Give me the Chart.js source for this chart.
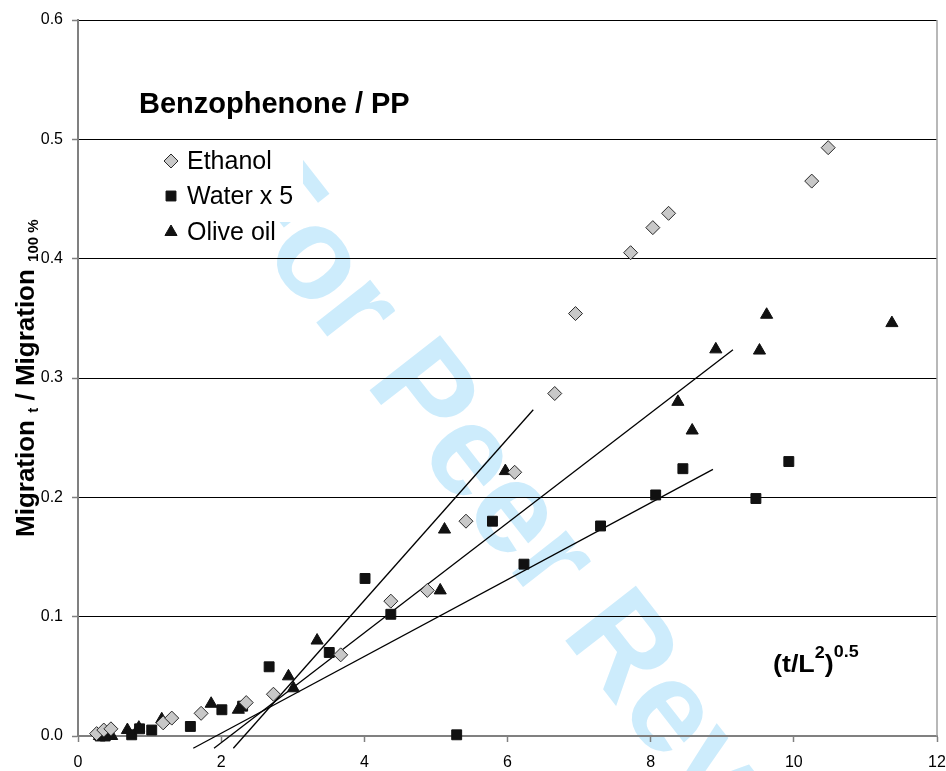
<!DOCTYPE html>
<html>
<head>
<meta charset="utf-8">
<script src="https://cdn.jsdelivr.net/npm/chart.js@4.4.1/dist/chart.umd.min.js"></script>
<style>
  html, body { margin: 0; padding: 0; background: #fff; }
  canvas { display: block; }
</style>
</head>
<body>
<canvas id="myChart" width="946" height="771"></canvas>
<script>
// data
const ethanolX = [0.26, 0.36, 0.46, 1.19, 1.31, 1.72, 2.35, 2.73, 3.67, 4.37, 4.88, 5.42, 6.10, 6.66, 6.95, 7.72, 8.03, 8.25, 10.25, 10.48];
const ethanolY = [0.002, 0.005, 0.006, 0.011, 0.015, 0.019, 0.028, 0.035, 0.068, 0.113, 0.122, 0.180, 0.221, 0.287, 0.354, 0.405, 0.426, 0.438, 0.465, 0.493];

const waterX = [0.31, 0.38, 0.75, 0.86, 1.03, 1.57, 2.01, 2.30, 2.67, 3.51, 4.01, 4.37, 5.29, 5.79, 6.23, 7.30, 8.07, 8.45, 9.47, 9.93];
const waterY = [0, 0, 0.001, 0.006, 0.005, 0.008, 0.022, 0.025, 0.058, 0.070, 0.132, 0.102, 0.001, 0.180, 0.144, 0.176, 0.202, 0.224, 0.199, 0.230];

const oliveX = [0.30, 0.47, 0.69, 0.85, 1.17, 1.86, 2.24, 2.94, 3.01, 3.34, 5.06, 5.12, 5.97, 8.38, 8.58, 8.91, 9.52, 9.62, 11.37];
const oliveY = [0, 0, 0.005, 0.007, 0.014, 0.027, 0.022, 0.050, 0.040, 0.080, 0.122, 0.173, 0.222, 0.280, 0.256, 0.324, 0.323, 0.353, 0.346];

// the three straight fit lines (end points)
const fitLine1X = [2.17, 6.36];
const fitLine1Y = [-0.0103, 0.2734];
const fitLine2X = [1.90, 9.15];
const fitLine2Y = [-0.0103, 0.3236];
const fitLine3X = [1.61, 8.87];
const fitLine3Y = [-0.0103, 0.2234];

const seriesNames = ["Ethanol", "Water x 5", "Olive oil"];
const xTickStep = 2;
const yTickStep = 0.1;
const chartTitle = "Benzophenone / PP";
const watermark = "For Peer Review";

const FONT = '"Liberation Sans", Arial, Helvetica, sans-serif';
Chart.defaults.font.family = FONT;

function pts(xs, ys) {
  return xs.map((x, i) => ({ x: x, y: ys[i] }));
}

const styles = [
  { pointStyle: 'rectRot', backgroundColor: '#c8c8c8', borderColor: '#2a2a2a' },
  { pointStyle: 'rect', backgroundColor: '#111', borderColor: '#111' },
  { pointStyle: 'triangle', backgroundColor: '#111', borderColor: '#111' }
];

function fitSet(xs, ys) {
  return {
    data: pts(xs, ys), showLine: true, pointRadius: 0,
    borderColor: '#000', borderWidth: 1.3, clip: false
  };
}

// little marker drawer for the legend box
function marker(c, style, x, y, r) {
  c.beginPath();
  if (style === 'rectRot') {
    c.moveTo(x - r, y); c.lineTo(x, y - r); c.lineTo(x + r, y); c.lineTo(x, y + r);
  } else if (style === 'rect') {
    const s = r * Math.SQRT1_2;
    c.rect(x - s, y - s, 2 * s, 2 * s);
  } else {
    const a = 2 * Math.PI / 3;
    c.moveTo(x, y - r);
    c.lineTo(x + Math.sin(a) * r, y - Math.cos(a) * r);
    c.lineTo(x + Math.sin(2 * a) * r, y - Math.cos(2 * a) * r);
  }
  c.closePath();
}

function runs(c, list) {
  let x = 0;
  list.forEach(r => {
    c.font = r.f;
    c.fillText(r.t, x, r.dy || 0);
    x += c.measureText(r.t).width;
  });
}

const decor = {
  id: 'decor',
  beforeDraw(chart) {
    const c = chart.ctx;
    c.save();
    c.fillStyle = '#fff';
    c.fillRect(0, 0, chart.width, chart.height);
    c.translate(213, 190);
    c.rotate(52 * Math.PI / 180);
    c.font = 'bold 130px ' + FONT;
    c.fillStyle = 'rgb(205,236,252)';
    c.fillText(watermark, 0, 0);
    c.restore();
    // title / legend box sits over the watermark
    c.save();
    c.fillStyle = '#fff';
    c.fillRect(0, 0, 303, 222);
    c.restore();
  },
  afterDraw(chart) {
    const c = chart.ctx;
    const a = chart.chartArea;
    c.save();
    // right frame line
    c.strokeStyle = '#a0a0a0';
    c.lineWidth = 1.5;
    c.beginPath();
    c.moveTo(a.right, a.top);
    c.lineTo(a.right, a.bottom);
    c.stroke();

    c.fillStyle = '#000';
    c.textBaseline = 'alphabetic';
    c.textAlign = 'left';
    c.font = 'bold 29px ' + FONT;
    c.fillText(chartTitle, 139, 113);

    // legend
    const ly = [161, 196, 232];
    seriesNames.forEach((name, i) => {
      marker(c, styles[i].pointStyle, 171, ly[i], 7);
      c.fillStyle = styles[i].backgroundColor;
      c.fill();
      c.strokeStyle = styles[i].borderColor;
      c.lineWidth = 1;
      c.stroke();
      c.fillStyle = '#000';
      c.font = '25px ' + FONT;
      c.fillText(name, 187, ly[i] + 8);
    });

    // x axis label inside the plot
    c.save();
    c.translate(773, 672);
    c.scale(1.12, 1);
    runs(c, [
      { t: '(t/L', f: 'bold 24px ' + FONT },
      { t: '2', f: 'bold 16px ' + FONT, dy: -14 },
      { t: ')', f: 'bold 24px ' + FONT },
      { t: '0.5', f: 'bold 16px ' + FONT, dy: -15 }
    ]);
    c.restore();

    // y axis title
    c.save();
    c.translate(34, 537);
    c.rotate(-Math.PI / 2);
    runs(c, [
      { t: 'Migration ', f: 'bold 26px ' + FONT },
      { t: 't', f: 'bold 15px ' + FONT, dy: 4 },
      { t: ' / Migration ', f: 'bold 26px ' + FONT },
      { t: '100 %', f: 'bold 15px ' + FONT, dy: 4 }
    ]);
    c.restore();
    c.restore();
  }
};

const ctx = document.getElementById("myChart").getContext("2d");

const myChart = new Chart(ctx, {
  type: 'scatter',
  data: {
    datasets: [
      Object.assign({ label: seriesNames[0], data: pts(ethanolX, ethanolY), pointRadius: 7, borderWidth: 1, clip: false }, styles[0]),
      Object.assign({ label: seriesNames[1], data: pts(waterX, waterY), pointRadius: 7, borderWidth: 1, clip: false }, styles[1]),
      Object.assign({ label: seriesNames[2], data: pts(oliveX, oliveY), pointRadius: 7, borderWidth: 1, clip: false }, styles[2]),
      fitSet(fitLine1X, fitLine1Y),
      fitSet(fitLine2X, fitLine2Y),
      fitSet(fitLine3X, fitLine3Y)
    ]
  },
  options: {
    responsive: false,
    animation: false,
    events: [],
    layout: { padding: { top: 20, right: 0, left: 0, bottom: 0 } },
    plugins: {
      legend: { display: false },
      tooltip: { enabled: false }
    },
    scales: {
      x: {
        type: 'linear', min: 0, max: 12,
        ticks: { stepSize: xTickStep, color: '#000', font: { size: 16 }, padding: 11 },
        grid: { drawOnChartArea: false, tickLength: 6, tickColor: '#808080', tickWidth: 1.5 },
        border: { color: '#808080', width: 2 },
        afterFit: s => { s.height = 35; s.paddingLeft = 0; s.paddingRight = 9; }
      },
      y: {
        min: 0, max: 0.6,
        ticks: { stepSize: yTickStep, color: '#000', font: { size: 16 }, padding: 9,
                 callback: v => Number(v).toFixed(1) },
        grid: { color: '#000', lineWidth: 1, tickLength: 6, tickColor: '#808080', tickWidth: 1.5 },
        border: { color: '#808080', width: 2 },
        afterFit: s => { s.width = 78; }
      }
    }
  },
  plugins: [decor]
});
</script>
</body>
</html>
